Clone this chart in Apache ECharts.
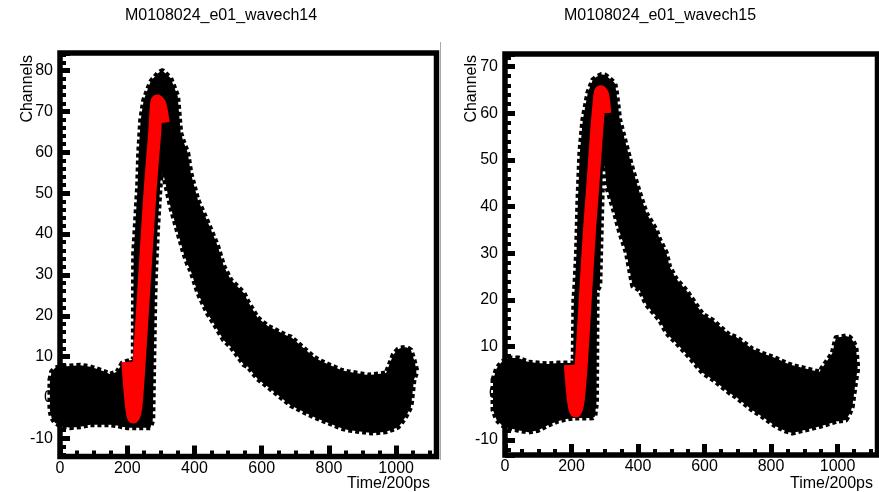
<!DOCTYPE html>
<html><head><meta charset="utf-8">
<script src="https://cdn.jsdelivr.net/npm/echarts@6/dist/echarts.min.js"></script>
<style>html,body{margin:0;padding:0;background:#fff}#c{width:879px;height:492px}</style>
</head><body><div id="c"></div>
<script>
// ---- texts ----
const titles = ['M0108024_e01_wavech14', 'M0108024_e01_wavech15'];
const xTitle = 'Time/200ps';
const yTitle = 'Channels';

// ---- left pad (wavech14): black band envelope ----
const tL  = [-30,-25,-15,0,30,60,90,120,150,170,185,200,215,218,219,225,231,234,240,249,269,276,282,284,290,299,305,329,350,359,368,380,389,410,439,457,469,487,508,547,559,588,618,642,678,687,755,776,836,857,916,934,970,991,1005,1014,1030,1044,1053,1060];
const upL = [4.3,6.3,7.2,7.5,7.7,7.9,7.5,6.7,5.7,6.3,8.4,8.9,9.2,9.5,35,43.4,51.8,59.8,67.9,72.8,77.2,78,78.5,78.7,79.3,79.8,80,78.2,73.8,64.8,62.5,59.9,55,48.4,43,39.5,37.1,32.2,28.8,25.6,23.5,19.5,17.5,16.5,15,14.8,9.9,8.9,6.7,6.3,5.5,5.6,6.0,10.4,11.8,12.1,12.3,11.6,9.2,7];
const loL = [-3.1,-5,-6.2,-6.9,-7.4,-7.2,-6.7,-6.7,-6.7,-6.9,-7.2,-7.4,-7.4,-7.4,-7.4,-7.4,-7.4,-7.4,-7.4,-7.4,-7.4,-5.5,23.9,30,41,53.2,55.7,46.6,40.5,38,35.3,32.5,31,25.6,20.5,18.2,16.5,14,12.4,8,7.5,4.5,2.6,1,-1.4,-2,-4.8,-5.5,-7.5,-8,-8.6,-8.7,-8.4,-7.8,-7.3,-6.5,-4.5,-2.3,4.3,6];
// left fit curve (red)
const fitTL = [202,206,212,219,226,235,250,260,269,281,290,298,307];
const fitVL = [8.7,4,-1.5,-4.8,-2,8,27.3,40.5,51.8,64,72.6,71.5,67.2];

// ---- right pad (wavech15) ----
const tR  = [-36,-25,-10,10,40,70,100,130,160,185,205,207,210,215,219,225,234,249,264,270,275,277,285,290,294,300,305,330,335,345,365,384,405,425,455,465,485,495,515,545,594,624,675,695,744,774,815,845,864,945,984,995,1025,1035,1044,1055,1060];
const upR = [2.9,5.4,6.7,7.6,7.6,6.7,6.5,6.3,6.5,6.5,6.5,20,23,30.1,40.8,51.5,58.6,64.4,67.2,67.5,67.8,67.9,68.1,68.3,68.3,68.2,68,66.5,64.5,58.6,53,47.9,42.9,38.6,35,33,30.1,27.1,24.5,22.1,17,15.7,12.5,12.1,9.5,8.6,7.5,6.5,6,4.6,8.6,11.9,12.3,12.1,11.5,10,6];
const loR = [-3.6,-5.7,-6.8,-7.4,-7.9,-8.3,-7.9,-6.8,-5.9,-5.5,-5.3,-5.3,-5.3,-5.3,-5.3,-5.3,-5.3,-5.3,-5.2,-5,-2,22,23,37.1,47.9,48.7,44.4,38.5,37.1,34.5,30.1,23,22.1,19,16.5,15.7,13,12.2,10.8,8.5,4.4,3,0.1,-0.8,-3.6,-5,-7.1,-8.1,-8.5,-7.1,-6.3,-6,-5.7,-4.5,-2.9,2.9,5];
const fitTR = [196.5,201,207,213,220,230,243,254,264,274.6,282,288,294,300];
const fitVR = [6.1,2,-2,-3.8,-1.5,7,22.1,35,44.4,55.2,61.5,64.6,63.8,60];

// ---- axis ranges ----
const xRange = [0, 1120];
const yRangeL = [-14.46, 84.33];
const yRangeR = [-13.2, 72.7];

const FONT = '"Liberation Sans", Arial, Helvetica, sans-serif';
const chart = echarts.init(document.getElementById('c'), null, {renderer: 'canvas'});

function axisX(gi) {
  return {
    gridIndex: gi, type: 'value', min: xRange[0], max: xRange[1], interval: 200,
    axisLine: {show: false, onZero: false},
    axisTick: {show: true, inside: true, length: 11, lineStyle: {color: '#000', width: 5}},
    minorTick: {show: true, splitNumber: 4, length: 6, lineStyle: {color: '#000', width: 4}},
    splitLine: {show: false},
    axisLabel: {color: '#000', fontFamily: FONT, fontSize: 16, margin: 4, showMaxLabel: false,
                formatter: v => String(v)}
  };
}
function axisY(gi, r) {
  return {
    gridIndex: gi, type: 'value', min: r[0], max: r[1], splitNumber: 10,
    axisLine: {show: false, onZero: false},
    axisTick: {show: true, inside: true, length: 10, lineStyle: {color: '#000', width: 5}},
    minorTick: {show: true, splitNumber: 5, length: 6, lineStyle: {color: '#000', width: 4}},
    splitLine: {show: false},
    axisLabel: {color: '#000', fontFamily: FONT, fontSize: 16, margin: 7, showMinLabel: false, showMaxLabel: false,
                formatter: v => String(v)}
  };
}
// black band: polygon between upper and lower envelopes, positioned through the axes
function band(gi, t, up, lo) {
  return {
    type: 'custom', xAxisIndex: gi, yAxisIndex: gi, clip: false, z: 2, silent: true,
    data: [[t[0], lo[0]]],
    renderItem: function (params, api) {
      const pts = [];
      for (let i = 0; i < t.length; i++) pts.push(api.coord([t[i], up[i]]));
      for (let i = t.length - 1; i >= 0; i--) pts.push(api.coord([t[i], lo[i]]));
      return {type: 'polygon', shape: {points: pts},
              style: {fill: '#000', stroke: '#000', lineWidth: 5, lineDash: [4, 3], lineJoin: 'round'}};
    }
  };
}
function fit(gi, t, v) {
  return {type: 'line', xAxisIndex: gi, yAxisIndex: gi, data: t.map((x, i) => [x, v[i]]),
    smooth: 0.3, symbol: 'none', clip: false, z: 3, silent: true,
    lineStyle: {color: '#ff0000', width: 13, cap: 'butt', join: 'round'}};
}
function txt(x, y, s, align, rot, size) {
  return {type: 'text', x: x, y: y, rotation: rot || 0, z: 10,
    style: {text: s, fill: '#000', font: (size || 16) + 'px ' + FONT, align: align, verticalAlign: 'middle',
            textAlign: align, textVerticalAlign: 'middle'}};
}

chart.setOption({
  animation: false,
  backgroundColor: '#fff',
  grid: [
    {left: 60, top: 53, width: 376.5, height: 403.5, show: true, borderColor: '#000', borderWidth: 5.5, backgroundColor: 'transparent'},
    {left: 505, top: 54, width: 372.5, height: 401, show: true, borderColor: '#000', borderWidth: 5.5, backgroundColor: 'transparent'}
  ],
  xAxis: [axisX(0), axisX(1)],
  yAxis: [axisY(0, yRangeL), axisY(1, yRangeR)],
  series: [band(0, tL, upL, loL), band(1, tR, upR, loR), fit(0, fitTL, fitVL), fit(1, fitTR, fitVR)],
  graphic: [
    txt(221, 16, titles[0], 'center', 0, 16),
    txt(660, 16, titles[1], 'center', 0, 16),
    txt(430, 484, xTitle, 'right'),
    txt(873, 484, xTitle, 'right'),
    txt(28, 55, yTitle, 'right', Math.PI / 2),
    txt(472, 55, yTitle, 'right', Math.PI / 2),
    {type: 'line', shape: {x1: 440.5, y1: 42, x2: 440.5, y2: 460}, style: {stroke: '#aaa', lineWidth: 1}, z: 0}
  ]
});
</script></body></html>
